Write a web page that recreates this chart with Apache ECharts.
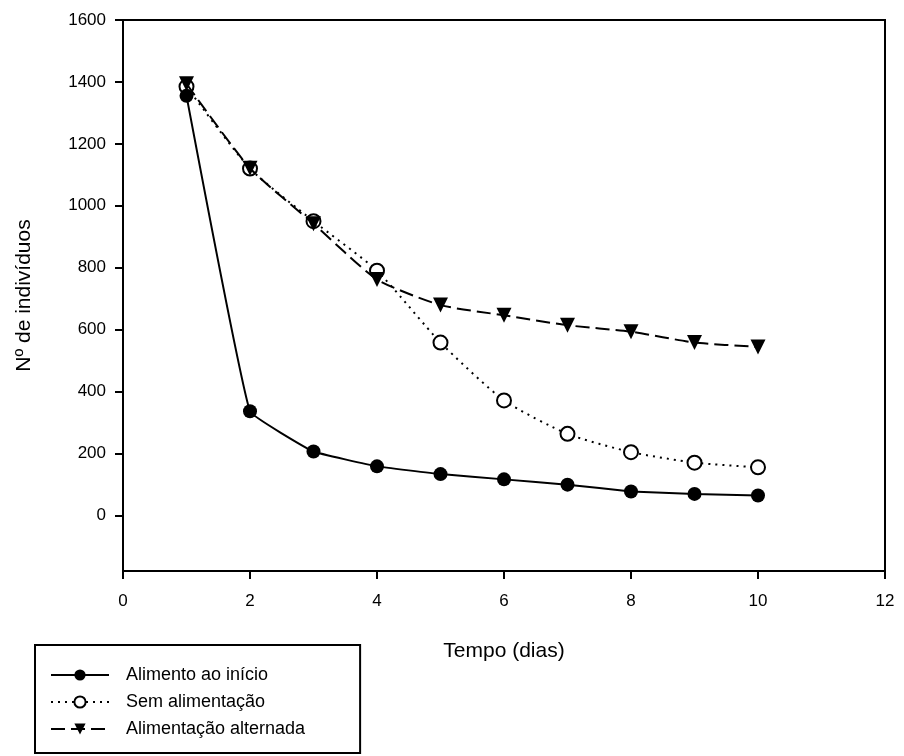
<!DOCTYPE html>
<html>
<head>
<meta charset="utf-8">
<script src="https://cdn.jsdelivr.net/npm/echarts@6/dist/echarts.min.js"></script>
<style>
html,body{margin:0;padding:0;background:#fff;}
#chart{width:904px;height:756px;}
</style>
</head>
<body>
<div id="chart"></div>
<script>
// ---- data ----
const days = [1, 2, 3, 4, 5, 6, 7, 8, 9, 10];
const alimentoInicio = [1355, 336, 206, 158, 133, 116, 99, 77, 69, 64];
const semAlimentacao = [1385, 1120, 950, 790, 558, 371, 263, 204, 170, 155];
const alimentacaoAlternada = [1394, 1121, 942, 762, 679, 646, 614, 593, 558, 544];
const yTickValues = [0, 200, 400, 600, 800, 1000, 1200, 1400, 1600];
const seriesNames = ['Alimento ao início', 'Sem alimentação', 'Alimentação alternada'];

const pair = (vals) => days.map((d, i) => [d, vals[i]]);
const FONT = '"Liberation Sans", Arial, sans-serif';

const chart = echarts.init(document.getElementById('chart'), null, {renderer: 'canvas'});
chart.setOption({
  animation: false,
  backgroundColor: '#fff',
  grid: {
    left: 123, right: 19, top: 20, bottom: 185,
    show: true, borderColor: '#000', borderWidth: 2, backgroundColor: 'transparent'
  },
  xAxis: {
    type: 'value', min: 0, max: 12, interval: 2,
    name: 'Tempo (dias)', nameLocation: 'middle', nameGap: 70,
    nameTextStyle: {fontFamily: FONT, fontSize: 21, color: '#000'},
    axisLine: {show: true, onZero: false, lineStyle: {color: '#000', width: 2}},
    axisTick: {show: true, length: 8, lineStyle: {color: '#000', width: 2}},
    axisLabel: {fontFamily: FONT, fontSize: 17, color: '#000', margin: 22, formatter: (v) => String(v)},
    splitLine: {show: false}
  },
  yAxis: {
    type: 'value', min: -180, max: 1600,
    name: 'Nº de indivíduos', nameLocation: 'middle', nameGap: 88, nameRotate: 90,
    nameTextStyle: {fontFamily: FONT, fontSize: 21, color: '#000'},
    axisLine: {show: true, onZero: false, lineStyle: {color: '#000', width: 2}},
    axisTick: {show: true, length: 8, customValues: yTickValues, lineStyle: {color: '#000', width: 2}},
    axisLabel: {fontFamily: FONT, fontSize: 17, color: '#000', margin: 17, customValues: yTickValues, formatter: (v) => String(v)},
    splitLine: {show: false}
  },
  legend: {
    orient: 'vertical', left: 35, top: 645, height: 80,
    data: seriesNames,
    itemWidth: 58, itemHeight: 14, itemGap: 9,
    padding: [21, 55, 15, 15],
    borderColor: '#000', borderWidth: 2, borderRadius: 0,
    backgroundColor: '#fff',
    textStyle: {fontFamily: FONT, fontSize: 18, color: '#000', padding: [0, 0, 0, 12]}
  },
  series: [
    {
      name: seriesNames[1], type: 'line', data: pair(semAlimentacao), z: 2,
      smooth: 0.2, symbol: 'circle', symbolSize: 14,
      lineStyle: {color: '#000', width: 2, type: [2, 5]},
      itemStyle: {color: '#fff', borderColor: '#000', borderWidth: 2}
    },
    {
      name: seriesNames[2], type: 'line', data: pair(alimentacaoAlternada), z: 3,
      smooth: 0.2, symbol: 'triangle', symbolRotate: 180, symbolSize: 15,
      lineStyle: {color: '#000', width: 2, type: [14, 6]},
      itemStyle: {color: '#000', borderColor: '#000', borderWidth: 0}
    },
    {
      name: seriesNames[0], type: 'line', data: pair(alimentoInicio), z: 4,
      smooth: 0.08, symbol: 'circle', symbolSize: 14,
      lineStyle: {color: '#000', width: 2, type: 'solid'},
      itemStyle: {color: '#000', borderColor: '#000', borderWidth: 0}
    }
  ]
});
</script>
</body>
</html>
